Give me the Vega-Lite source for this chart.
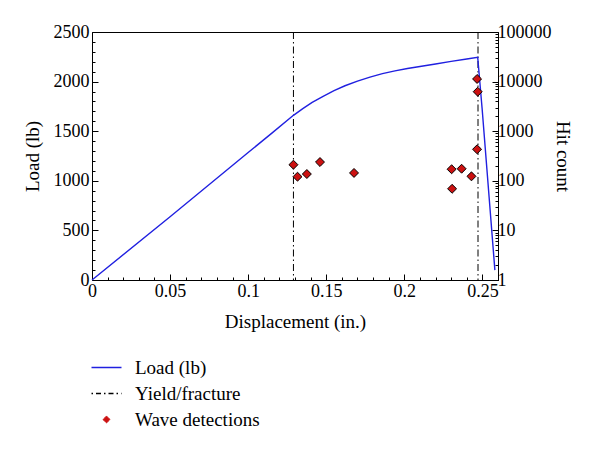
{
  "$schema": "https://vega.github.io/schema/vega-lite/v6.json",
  "width": 406,
  "height": 248,
  "autosize": {"type": "none"},
  "padding": {"left": 92, "top": 32, "right": 102, "bottom": 170},
  "background": "white",
  "config": {
    "font": "Liberation Serif",
    "view": {"stroke": "black", "strokeWidth": 1},
    "axis": {
      "domainColor": "black",
      "tickColor": "black",
      "labelColor": "black",
      "titleColor": "black",
      "labelFont": "Liberation Serif",
      "titleFont": "Liberation Serif",
      "labelFontSize": 18,
      "titleFontSize": 19,
      "titleFontWeight": "normal",
      "labelOverlap": false,
      "grid": false
    },
    "legend": {"labelFont": "Liberation Serif", "labelFontSize": 19, "labelColor": "black"}
  },
  "datasets": {
    "load": [
      {"disp": 0, "load": 0},
      {"disp": 0.05, "load": 638},
      {"disp": 0.1, "load": 1285},
      {"disp": 0.115, "load": 1478},
      {"disp": 0.129, "load": 1660},
      {"disp": 0.135, "load": 1728},
      {"disp": 0.141, "load": 1790},
      {"disp": 0.148, "load": 1852},
      {"disp": 0.155, "load": 1908},
      {"disp": 0.162, "load": 1958},
      {"disp": 0.17, "load": 2005},
      {"disp": 0.178, "load": 2045},
      {"disp": 0.186, "load": 2080},
      {"disp": 0.194, "load": 2108},
      {"disp": 0.202, "load": 2132},
      {"disp": 0.21, "load": 2152},
      {"disp": 0.22, "load": 2178},
      {"disp": 0.23, "load": 2204},
      {"disp": 0.24, "load": 2228},
      {"disp": 0.247, "load": 2245},
      {"disp": 0.2498, "load": 1734},
      {"disp": 0.258, "load": 100}
    ],
    "events": [
      {"disp": 0.129, "hits": 211},
      {"disp": 0.1316, "hits": 121},
      {"disp": 0.1376, "hits": 137},
      {"disp": 0.146, "hits": 239},
      {"disp": 0.1678, "hits": 144},
      {"disp": 0.2303, "hits": 171},
      {"disp": 0.2367, "hits": 175},
      {"disp": 0.243, "hits": 123},
      {"disp": 0.2306, "hits": 69},
      {"disp": 0.2466, "hits": 432},
      {"disp": 0.2466, "hits": 11300},
      {"disp": 0.247, "hits": 6260}
    ],
    "marks": [
      {"disp": 0.129},
      {"disp": 0.2472}
    ]
  },
  "encoding": {
    "x": {
      "field": "disp",
      "type": "quantitative",
      "scale": {"domain": [0, 0.26], "nice": false, "zero": false},
      "axis": {
        "title": "Displacement (in.)",
        "values": [0,0.01,0.02,0.03,0.04,0.05,0.06,0.07,0.08,0.09,0.1,0.11,0.12,0.13,0.14,0.15,0.16,0.17,0.18,0.19,0.2,0.21,0.22,0.23,0.24,0.25,0.26],
        "labelExpr": "round(datum.value*100) % 5 === 0 ? format(datum.value, '~g') : ''",
        "tickSize": {"condition": {"test": "round(datum.value*100) % 5 === 0", "value": -6}, "value": -3},
        "labelPadding": 8,
        "titlePadding": 9,
        "labelFlush": false,
        "labelOverlap": false
      }
    }
  },
  "layer": [
    {
      "data": {"name": "marks"},
      "mark": {"type": "rule", "strokeDash": [7, 3, 1.5, 3], "strokeWidth": 1},
      "encoding": {
        "color": {
          "datum": "Yield/fracture",
          "type": "nominal",
          "scale": {"domain": ["Load (lb)", "Yield/fracture", "Wave detections"], "range": ["#2020e0", "black", "#cc1111"]},
          "legend": {
            "title": null,
            "orient": "none",
            "legendX": 5,
            "legendY": 326,
            "symbolSize": 900,
            "labelOffset": 19,
            "rowPadding": 6,
            "encode": {
              "symbols": {
                "update": {
                  "shape": {"signal": "datum.value === 'Wave detections' ? 'diamond' : 'stroke'"},
                  "size": {"signal": "datum.value === 'Wave detections' ? 50 : 900"},
                  "strokeDash": {"signal": "datum.value === 'Yield/fracture' ? [1.5, 3, 5, 3] : [1, 0]"},
                  "fill": {"signal": "datum.value === 'Wave detections' ? '#cc1111' : 'transparent'"},
                  "stroke": {"signal": "datum.value === 'Load (lb)' ? '#2020e0' : 'black'"},
                  "strokeWidth": {"signal": "datum.value === 'Wave detections' ? 0.8 : 1.3"},
                  "opacity": {"value": 1}
                }
              }
            }
          }
        }
      }
    },
    {
      "data": {"name": "load"},
      "mark": {"type": "line", "strokeWidth": 1.4},
      "encoding": {
        "y": {
          "field": "load",
          "type": "quantitative",
          "scale": {"domain": [0, 2500], "nice": false},
          "axis": {
            "title": "Load (lb)",
            "orient": "left",
            "values": [0,100,200,300,400,500,600,700,800,900,1000,1100,1200,1300,1400,1500,1600,1700,1800,1900,2000,2100,2200,2300,2400,2500],
            "labelExpr": "datum.value % 500 === 0 ? format(datum.value, 'd') : ''",
            "tickSize": {"condition": {"test": "datum.value % 500 === 0", "value": -6}, "value": -3},
            "labelPadding": 9,
            "titlePadding": 11,
            "labelOverlap": false,
            "labelFlush": false
          }
        },
        "color": {"datum": "Load (lb)", "type": "nominal"}
      }
    },
    {
      "data": {"name": "events"},
      "mark": {"type": "point", "shape": "diamond", "filled": true, "size": 80, "stroke": "black", "strokeWidth": 1, "opacity": 1},
      "encoding": {
        "y": {
          "field": "hits",
          "type": "quantitative",
          "scale": {"type": "log", "domain": [1, 100000], "nice": false},
          "axis": {
            "title": "Hit count",
            "orient": "right",
            "values": [1,2,3,4,5,6,7,8,9,10,20,30,40,50,60,70,80,90,100,200,300,400,500,600,700,800,900,1000,2000,3000,4000,5000,6000,7000,8000,9000,10000,20000,30000,40000,50000,60000,70000,80000,90000,100000],
            "labelExpr": "abs(log(datum.value)/LN10 - round(log(datum.value)/LN10)) < 1e-6 ? format(datum.value, 'd') : ''",
            "tickSize": {"condition": {"test": "abs(log(datum.value)/LN10 - round(log(datum.value)/LN10)) < 1e-6", "value": -6}, "value": -3},
            "labelPadding": 5,
            "titlePadding": 1,
            "labelOverlap": false,
            "labelFlush": false
          }
        },
        "color": {"datum": "Wave detections", "type": "nominal"}
      }
    }
  ],
  "resolve": {"scale": {"y": "independent"}}
}
